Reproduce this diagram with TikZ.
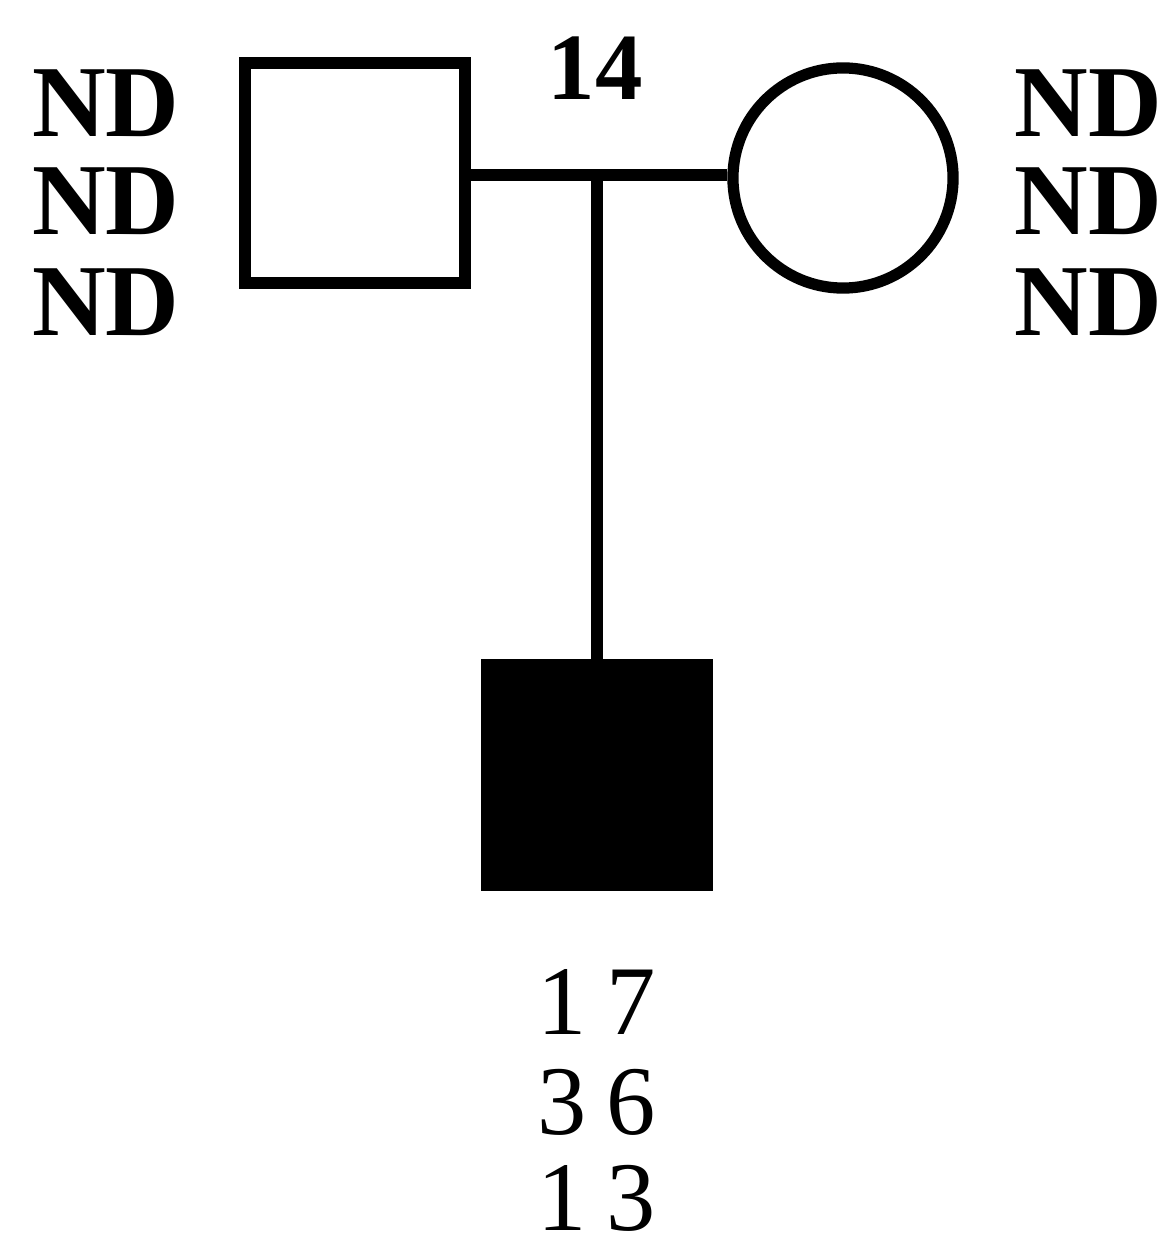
\documentclass[tikz,border=0pt]{standalone}
\usepackage{fontspec}
\setmainfont{Liberation Serif}
\usepackage{tikz}

\begin{document}
\begin{tikzpicture}[x=0.01cm,y=-0.01cm,line width=3.2pt,
		person/.style={draw=black,minimum size=2.2cm,inner sep=0pt},
		nd/.style={font=\bfseries\fontsize{29}{29}\selectfont,anchor=base,inner sep=0pt},
		allele/.style={font=\fontsize{28}{28}\selectfont,anchor=base,inner sep=0pt}]
		\useasboundingbox (0,0) rectangle (1172,1252);
		\node[person,rectangle] (father) at (355,173) {};
		\node[person,circle] (mother) at (843,178) {};
		\node[person,rectangle,fill=black] (son) at (597,775) {};
		\coordinate (mid) at (597,175);
		\draw (father.east |- mid) -- (mother.west |- mid); % mating line
		\draw (mid) -- (son.north);
		\node[font=\bfseries\fontsize{27}{27}\selectfont,anchor=base,inner sep=0pt] (age) at (595,100) {14};
		\foreach \y/\i in {137/1,235/2,336/3} % edit here for the rows
		{
		\node[nd] (ndL\i) at (106,\y) {ND};
		\node[nd] (ndR\i) at (1088,\y) {ND};
		}
		\node[allele] (a1) at (597,1034) {1\hspace{0.2em}7};
		\node[allele] (a2) at (597,1134) {3\hspace{0.2em}6};
		\node[allele] (a3) at (597,1230) {1\hspace{0.2em}3};
\end{tikzpicture}
\end{document}
